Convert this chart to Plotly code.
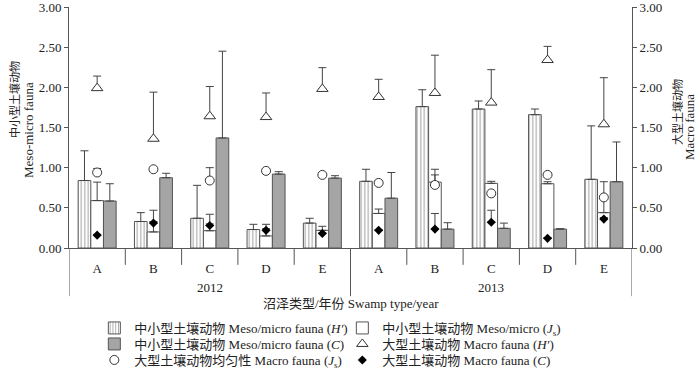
import plotly.graph_objects as go

categories = ["A", "B", "C", "D", "E", "A", "B", "C", "D", "E"]
years = ["2012", "2013"]
y_ticks = [0, 0.5, 1.0, 1.5, 2.0, 2.5, 3.0]

meso_h = [0.84, 0.33, 0.37, 0.23, 0.31, 0.83, 1.76, 1.73, 1.66, 0.855]
meso_h_err = [0.37, 0.11, 0.41, 0.065, 0.06, 0.15, 0.21, 0.10, 0.07, 0.665]
meso_js = [0.59, 0.20, 0.215, 0.15, 0.22, 0.43, 0.82, 0.805, 0.80, 0.44]
meso_js_err = [0.23, 0.27, 0.205, 0.145, 0.05, 0.055, 0.16, 0.025, 0.025, 0.385]
meso_c = [0.585, 0.875, 1.37, 0.92, 0.87, 0.62, 0.235, 0.245, 0.235, 0.825]
meso_c_err = [0.215, 0.055, 1.08, 0.03, 0.03, 0.32, 0.08, 0.065, 0.005, 0.495]
macro_h = [1.99, 1.36, 1.64, 1.63, 1.98, 1.88, 1.93, 1.81, 2.34, 1.54]
macro_h_err = [0.15, 0.58, 0.37, 0.30, 0.265, 0.22, 0.47, 0.41, 0.17, 0.58]
macro_js = [0.94, 0.98, 0.84, 0.96, 0.91, 0.81, 0.785, 0.68, 0.91, 0.63]
macro_js_err = [0.05, 0.02, 0.16, 0.02, 0.02, 0.03, 0.125, 0.02, 0.02, 0.02]
macro_c = [0.16, 0.31, 0.28, 0.22, 0.18, 0.22, 0.235, 0.32, 0.12, 0.36]
macro_c_err = [0.01, 0.02, 0.02, 0.02, 0.01, 0.01, 0.195, 0.15, 0.01, 0.02]

names = [
    "中小型土壤动物 Meso/micro fauna (<i>H′</i>)",
    "中小型土壤动物 Meso/micro (<i>J</i><sub>s</sub>)",
    "中小型土壤动物 Meso/micro fauna (<i>C</i>)",
    "大型土壤动物 Macro fauna (<i>H′</i>)",
    "大型土壤动物均匀性 Macro fauna (<i>J</i><sub>s</sub>)",
    "大型土壤动物 Macro fauna (<i>C</i>)",
]
left_title = ["中小型土壤动物", "Meso-micro fauna"]
right_title = ["大型土壤动物", "Macro fauna"]
x_title = "沼泽类型/年份 Swamp type/year"

FONT = "Liberation Serif, Noto Sans CJK SC, serif"
LINE = "#555555"
TXT = "#222222"
xpos = list(range(len(categories)))


def err(vals):
    return dict(type="data", symmetric=False, array=vals, arrayminus=[0] * len(vals),
                color="#444444", thickness=1, width=4)


fig = go.Figure()
fig.add_trace(go.Bar(x=xpos, y=meso_h, name=names[0], error_y=err(meso_h_err), legend="legend",
                     marker=dict(color="white", line=dict(color=LINE, width=1),
                                 pattern=dict(shape="|", fgcolor="#444444", bgcolor="white",
                                              size=3.5, solidity=0.3))))
fig.add_trace(go.Bar(x=xpos, y=meso_js, name=names[1], error_y=err(meso_js_err), legend="legend",
                     marker=dict(color="white", line=dict(color=LINE, width=1))))
fig.add_trace(go.Bar(x=xpos, y=meso_c, name=names[2], error_y=err(meso_c_err), legend="legend2",
                     marker=dict(color="#a5a5a5", line=dict(color=LINE, width=1))))
fig.add_trace(go.Scatter(x=xpos, y=macro_h, name=names[3], mode="markers", yaxis="y2",
                         error_y=err(macro_h_err), legend="legend2",
                         marker=dict(symbol="triangle-up", size=10, color="white",
                                     line=dict(width=1, color="#333333"))))
fig.add_trace(go.Scatter(x=xpos, y=macro_js, name=names[4], mode="markers", yaxis="y2",
                         error_y=err(macro_js_err), legend="legend3",
                         marker=dict(symbol="circle", size=9, color="white",
                                     line=dict(width=1, color="#333333"))))
fig.add_trace(go.Scatter(x=xpos, y=macro_c, name=names[5], mode="markers", yaxis="y2",
                         error_y=err(macro_c_err), legend="legend3",
                         marker=dict(symbol="diamond", size=7, color="black")))

# separators below the axis
shapes = []
n = len(categories)
for i in range(n + 1):
    xb = i - 0.5
    long_line = i in (0, n // 2, n)
    shapes.append(dict(type="line", xref="x", yref="paper", x0=xb, x1=xb, y0=0,
                       y1=-0.2 if long_line else -0.07,
                       line=dict(color=LINE, width=1)))

annotations = []
for k, yr in enumerate(years):
    annotations.append(dict(x=(n // 2) * k + (n // 2 - 1) / 2, y=-0.162, xref="x", yref="paper",
                            text=yr, showarrow=False, font=dict(size=13, family=FONT, color=TXT),
                            yanchor="middle"))
annotations.append(dict(x=0.5, y=-0.232, xref="paper", yref="paper", text=x_title,
                        showarrow=False, font=dict(size=13, family=FONT, color=TXT),
                        yanchor="middle"))
# rotated axis titles (two lines each)
for txt, xp, yp, sz in [(left_title[0], 15, 100, 11), (left_title[1], 28, 130, 13),
                        (right_title[0], 677, 112, 11), (right_title[1], 689, 127, 13)]:
    annotations.append(dict(x=(xp - 69) / 563, y=(248 - yp) / 241, xref="paper", yref="paper",
                            text=txt, textangle=-90, showarrow=False,
                            xanchor="center", yanchor="middle",
                            font=dict(size=sz, family=FONT, color=TXT)))

axis_font = dict(family=FONT, size=13, color=TXT)
leg_common = dict(orientation="h", x=0.045, xanchor="left", yanchor="middle",
                  entrywidth=203, entrywidthmode="pixels",
                  font=dict(family=FONT, size=13, color=TXT),
                  itemwidth=30, bgcolor="rgba(0,0,0,0)")
fig.update_layout(
    width=700, height=376,
    margin=dict(l=69, r=68, t=7, b=128, autoexpand=False),
    plot_bgcolor="white", paper_bgcolor="white",
    barmode="group", bargap=0.325, bargroupgap=0,
    font=dict(family=FONT, size=12, color=TXT),
    xaxis=dict(range=[-0.5, n - 0.5], tickvals=xpos, ticktext=categories, ticks="",
               showline=True, linecolor=LINE, linewidth=1, showgrid=False, zeroline=False,
               tickfont=axis_font, ticklabelstandoff=8),
    yaxis=dict(range=[0, 3], tickvals=y_ticks, tickformat=".2f", ticks="outside", ticklen=4,
               tickcolor=LINE, showline=True, linecolor=LINE, linewidth=1, showgrid=False,
               zeroline=False, tickfont=axis_font, ticklabeloverflow="allow"),
    yaxis2=dict(range=[0, 3], tickvals=y_ticks, tickformat=".2f", ticks="outside", ticklen=4,
                tickcolor=LINE, showline=True, linecolor=LINE, linewidth=1, showgrid=False,
                zeroline=False, overlaying="y", side="right", tickfont=axis_font,
                ticklabeloverflow="allow"),
    legend=dict(y=(248 - 328) / 241, **leg_common),
    legend2=dict(y=(248 - 344) / 241, **leg_common),
    legend3=dict(y=(248 - 360) / 241, **leg_common),
    shapes=shapes,
    annotations=annotations,
    showlegend=True,
)

fig.write_html("out.html", config={"displayModeBar": False},
               post_script="document.body.style.margin='0';")
